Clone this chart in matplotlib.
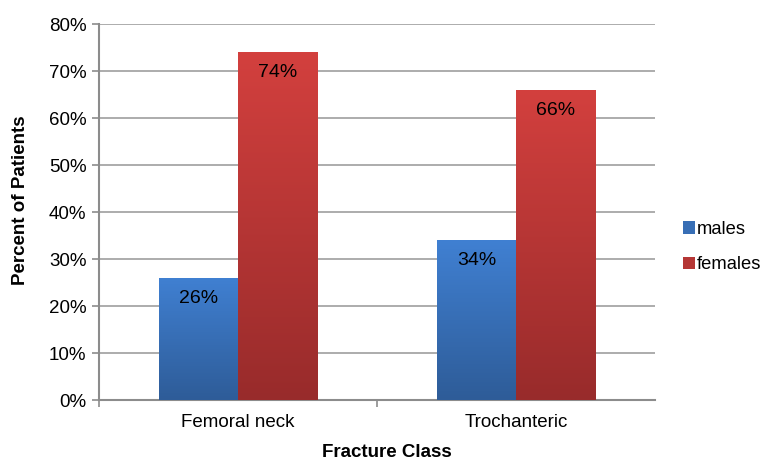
import numpy as np
import matplotlib.pyplot as plt
from matplotlib.patches import Patch
from matplotlib.ticker import FuncFormatter

plt.rcParams['font.family'] = ['Liberation Sans', 'DejaVu Sans']

categories = ['Femoral neck', 'Trochanteric']
males = [26, 34]
females = [74, 66]
series_names = ['males', 'females']

# top / bottom colors of the gradients
blue_top, blue_bot = np.array([0x40, 0x80, 0xd2]) / 255, np.array([0x2e, 0x5c, 0x98]) / 255
red_top, red_bot = np.array([0xd3, 0x40, 0x3e]) / 255, np.array([0x98, 0x2b, 0x2b]) / 255

fig = plt.figure(figsize=(7.65, 4.61), dpi=100)
ax = fig.add_axes([99 / 765, (461 - 400) / 461, (655 - 99) / 765, (400 - 24) / 461])

x = np.arange(len(categories))
w = 0.285
fs = 13.5


def grad_bar(xc, h, top, bot):
    bars = ax.bar(xc, h, w, color='none', zorder=3)
    b = bars[0]
    t = np.linspace(0, 1, 256)[:, None]
    img = (bot[None, :] * (1 - t) + top[None, :] * t)[:, None, :]
    im = ax.imshow(img, extent=[xc - w / 2, xc + w / 2, 0, h], origin='lower',
                   aspect='auto', zorder=3)
    im.set_clip_path(b)
    return b


for i in range(len(categories)):
    grad_bar(x[i] - w / 2, males[i], blue_top, blue_bot)
    grad_bar(x[i] + w / 2, females[i], red_top, red_bot)
    ax.text(x[i] - w / 2, males[i] - 2.6, f'{males[i]}%', ha='center', va='top',
            fontsize=14, zorder=4)
    ax.text(x[i] + w / 2, females[i] - 2.6, f'{females[i]}%', ha='center', va='top',
            fontsize=14, zorder=4)

ax.set_xlim(-0.5, 1.5)
ax.set_ylim(0, 80)
ax.set_yticks(range(0, 81, 10))
ax.yaxis.set_major_formatter(FuncFormatter(lambda v, p: f'{v:.0f}%'))
ax.set_xticks(x)
ax.set_xticklabels(categories, fontsize=fs)
ax.tick_params(axis='x', length=0, pad=10)
ax.set_xticks([-0.5, 0.5], minor=True)
ax.tick_params(axis='x', which='minor', length=5, color='#8c8c8c', width=1.2)
ax.tick_params(axis='y', length=5, color='#8c8c8c', width=1.2, labelsize=fs, pad=4)
ax.yaxis.grid(True, color='#a6a6a6', linewidth=1.3, zorder=0)
ax.set_axisbelow(True)
for s in ['top', 'right']:
    ax.spines[s].set_visible(False)
for s in ['left', 'bottom']:
    ax.spines[s].set_color('#8c8c8c')
    ax.spines[s].set_linewidth(1.5)

ax.set_ylabel('Percent of Patients', fontsize=fs, fontweight='bold')
ax.yaxis.set_label_coords(-0.126, 0.532)
ax.set_xlabel('Fracture Class', fontsize=fs, fontweight='bold')
ax.xaxis.set_label_coords(0.518, -0.118)

handles = [Patch(facecolor=blue_top * 0.5 + blue_bot * 0.5),
           Patch(facecolor=red_top * 0.5 + red_bot * 0.5)]
fig.legend(handles, series_names, loc='center left', bbox_to_anchor=(683 / 765, 1 - 247 / 461),
           frameon=False, fontsize=13.2, handlelength=0.65, handleheight=0.65,
           handletextpad=0.1, labelspacing=1.0, borderpad=0, borderaxespad=0)

fig.savefig('out.png', dpi=100)
